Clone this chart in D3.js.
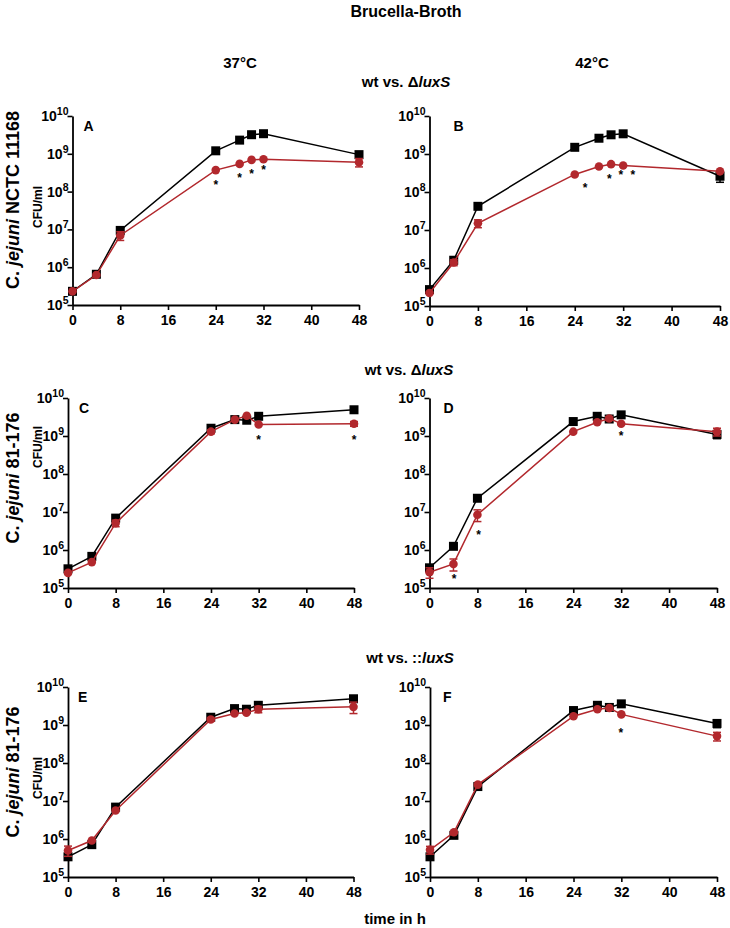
<!DOCTYPE html>
<html>
<head>
<meta charset="utf-8">
<script src="https://cdn.jsdelivr.net/npm/d3@7"></script>
<style>
  html, body { margin: 0; padding: 0; background: #fff; }
  svg { display: block; font-family: "Liberation Sans", Arial, sans-serif; font-weight: bold; }
</style>
</head>
<body>
<main></main>
<script>
(function () {

    // sampling times (h)
    var times = [0, 4, 8, 24, 28, 30, 32, 48],
        xTicks = [0, 8, 16, 24, 32, 40, 48],
        yTicks = [5, 6, 7, 8, 9, 10];

    // CFU/ml; wt = black squares, mutant = red circles
    var wtA  = [2.3e5, 6.5e5, 9.4e6, 1.2e9, 2.3e9, 3.2e9, 3.4e9, 9.5e8],
        mutA = [2.3e5, 6.2e5, 6.9e6, 3.7e8, 5.4e8, 6.9e8, 7.2e8, 6.0e8],
        wtErrA  = [0, 0, 0, 0, 0, 4e8, 6e8, 1.5e8],
        mutErrA = [0, 0, 1.8e6, 0, 0, 0, 0, 1.5e8],
        starsA = [[24, 1.8e8], [28, 2.75e8], [30, 3.5e8], [32, 4.6e8]];

    var wtB  = [2.7e5, 1.6e6, 4.2e7, 1.5e9, 2.6e9, 3.2e9, 3.4e9, 2.6e8],
        mutB = [2.2e5, 1.4e6, 1.5e7, 2.9e8, 4.7e8, 5.4e8, 5.0e8, 3.5e8],
        wtErrB  = [0, 0, 0, 0, 0, 0, 0, 8e7],
        mutErrB = [0, 2.5e5, 3.5e6, 0, 0, 0, 0, 0],
        starsB = [[25.7, 1.55e8], [29.7, 2.6e8], [31.6, 3.3e8], [33.6, 3.3e8]];

    var wtC  = [3.2e5, 6.8e5, 6.9e6, 1.6e9, 2.7e9, 2.6e9, 3.3e9, 4.9e9],
        mutC = [2.5e5, 4.8e5, 5.1e6, 1.3e9, 2.7e9, 3.4e9, 2.0e9, 2.1e9],
        wtErrC  = [0, 0, 0, 0, 0, 0, 0, 0],
        mutErrC = [0, 0, 1.0e6, 1.5e8, 0, 0, 0, 3e8],
        starsC = [[32, 9.8e8], [48, 9.8e8]];

    var wtD  = [3.4e5, 1.25e6, 2.3e7, 2.4e9, 3.3e9, 2.8e9, 3.6e9, 1.1e9],
        mutD = [2.6e5, 4.3e5, 8.5e6, 1.3e9, 2.3e9, 2.9e9, 2.1e9, 1.3e9],
        wtErrD  = [0, 0, 0, 0, 0, 0, 0, 2.5e8],
        mutErrD = [8e4, 1.5e5, 2.9e6, 0, 0, 3e8, 0, 3e8],
        starsD = [[4.1, 2.1e5], [8.2, 3.1e6], [32, 1.2e9]];

    var wtE  = [3.4e5, 7.1e5, 6.9e6, 1.6e9, 2.7e9, 2.6e9, 3.3e9, 4.9e9],
        mutE = [5.0e5, 9.1e5, 5.6e6, 1.4e9, 2.0e9, 2.1e9, 2.6e9, 3.0e9],
        wtErrE  = [0, 0, 0, 0, 0, 0, 0, 0],
        mutErrE = [1.5e5, 0, 0, 1.5e8, 0, 0, 5e8, 1.0e9],
        starsE = [];

    var wtF  = [3.4e5, 1.25e6, 2.4e7, 2.4e9, 3.3e9, 2.9e9, 3.6e9, 1.1e9],
        mutF = [5.2e5, 1.5e6, 2.7e7, 1.7e9, 2.6e9, 2.8e9, 1.9e9, 5.1e8],
        wtErrF  = [0, 0, 0, 0, 0, 0, 0, 2.5e8],
        mutErrF = [1.2e5, 0, 0, 0, 0, 0, 0, 1.3e8],
        starsF = [[31.9, 7.7e8]];

    var red = "#b2282d",
        W = 730, H = 928;

    var svg = d3.select("main")
            .append("svg")
            .attr("width", W)
            .attr("height", H);

    var panels = [
        {id: "A", wt: wtA, mut: mutA, wtErr: wtErrA, mutErr: mutErrA, stars: starsA,
         box: {x0: 72.5, x1: 359, y0: 116, y1: 305}, lx: 11},
        {id: "B", wt: wtB, mut: mutB, wtErr: wtErrB, mutErr: mutErrB, stars: starsB,
         box: {x0: 429.5, x1: 720, y0: 116, y1: 306}, lx: 24},
        {id: "C", wt: wtC, mut: mutC, wtErr: wtErrC, mutErr: mutErrC, stars: starsC,
         box: {x0: 68, x1: 354, y0: 398, y1: 588}, lx: 11},
        {id: "D", wt: wtD, mut: mutD, wtErr: wtErrD, mutErr: mutErrD, stars: starsD,
         box: {x0: 429.5, x1: 717, y0: 398, y1: 588}, lx: 14},
        {id: "E", wt: wtE, mut: mutE, wtErr: wtErrE, mutErr: mutErrE, stars: starsE,
         box: {x0: 68, x1: 353.5, y0: 687, y1: 877}, lx: 10},
        {id: "F", wt: wtF, mut: mutF, wtErr: wtErrF, mutErr: mutErrF, stars: starsF,
         box: {x0: 430, x1: 717, y0: 687, y1: 877}, lx: 13}
    ];

    var Panel = function (p) {
        var x = d3.scaleLinear().domain([0, 48]).range([p.box.x0, p.box.x1]),
            y = d3.scaleLog().domain([1e5, 1e10]).range([p.box.y1, p.box.y0]),
            g = svg.append("g");

        // axes
        var xa = g.append("g")
            .attr("transform", "translate(0," + p.box.y1 + ")")
            .call(d3.axisBottom(x).tickValues(xTicks).tickSize(5).tickSizeOuter(0));
        var ya = g.append("g")
            .attr("transform", "translate(" + p.box.x0 + ",0)")
            .call(d3.axisLeft(y).tickValues(yTicks.map(function (e) { return Math.pow(10, e); }))
                .tickSize(5).tickSizeOuter(0).tickFormat(""));
        [xa, ya].forEach(function (a) {
            a.select(".domain").attr("stroke", "#000").attr("stroke-width", 1.8);
            a.selectAll(".tick line").attr("stroke", "#000").attr("stroke-width", 1.6);
        });
        xa.selectAll(".tick text")
            .attr("y", 8)
            .attr("dy", "0.85em")
            .attr("font-size", 14)
            .attr("font-weight", "bold")
            .attr("font-family", "Liberation Sans, Arial, sans-serif")
            .attr("fill", "#000");

        yTicks.forEach(function (e) {
            var t = g.append("text")
                .attr("x", p.box.x0 - 4)
                .attr("y", y(Math.pow(10, e)) + 5)
                .attr("text-anchor", "end")
                .attr("font-size", 14);
            t.append("tspan").text("10");
            t.append("tspan").attr("dy", -6).attr("font-size", 10.5).text(e);
        });

        // panel letter
        g.append("text")
            .attr("x", p.box.x0 + p.lx)
            .attr("y", p.box.y0 + 15)
            .attr("font-size", 14)
            .text(p.id);

        var line = d3.line()
            .x(function (d) { return x(d[0]); })
            .y(function (d) { return y(d[1]); });

        var series = [
            {vals: p.wt, err: p.wtErr, color: "#000", shape: "square"},
            {vals: p.mut, err: p.mutErr, color: red, shape: "circle"}
        ];

        series.forEach(function (s) {
            var pts = times.map(function (t, i) { return [t, s.vals[i], s.err[i]]; });
            g.append("path")
                .datum(pts)
                .attr("d", line)
                .attr("fill", "none")
                .attr("stroke", s.color)
                .attr("stroke-width", 1.5);

            var eb = g.append("g").selectAll("g")
                .data(pts.filter(function (d) { return d[2] > 0; }))
                .enter().append("g")
                .attr("stroke", s.color)
                .attr("stroke-width", 1.5);
            eb.append("line")
                .attr("x1", function (d) { return x(d[0]); })
                .attr("x2", function (d) { return x(d[0]); })
                .attr("y1", function (d) { return y(d[1] + d[2]); })
                .attr("y2", function (d) { return y(Math.max(d[1] - d[2], 1e5)); });
            [1, -1].forEach(function (sgn) {
                eb.append("line")
                    .attr("x1", function (d) { return x(d[0]) - 4; })
                    .attr("x2", function (d) { return x(d[0]) + 4; })
                    .attr("y1", function (d) { return y(Math.max(d[1] + sgn * d[2], 1e5)); })
                    .attr("y2", function (d) { return y(Math.max(d[1] + sgn * d[2], 1e5)); });
            });

            if (s.shape === "square") {
                g.append("g").selectAll("rect")
                    .data(pts).enter().append("rect")
                    .attr("x", function (d) { return x(d[0]) - 4.5; })
                    .attr("y", function (d) { return y(d[1]) - 4.5; })
                    .attr("width", 9)
                    .attr("height", 9)
                    .attr("fill", s.color);
            } else {
                g.append("g").selectAll("circle")
                    .data(pts).enter().append("circle")
                    .attr("cx", function (d) { return x(d[0]); })
                    .attr("cy", function (d) { return y(d[1]); })
                    .attr("r", 4.3)
                    .attr("fill", s.color);
            }
        });

        // significance marks
        g.append("g").selectAll("text")
            .data(p.stars).enter().append("text")
            .attr("x", function (d) { return x(d[0]); })
            .attr("y", function (d) { return y(d[1]); })
            .attr("dy", "0.6em")
            .attr("text-anchor", "middle")
            .attr("font-size", 12)
            .text("*");
    };

    panels.forEach(Panel);

    // headers
    var Label = function (x, y, size, parts, rotate) {
        var t = svg.append("text")
            .attr("text-anchor", "middle")
            .attr("font-size", size)
            .attr("transform", "translate(" + x + "," + y + ")" + (rotate ? " rotate(-90)" : ""));
        parts.forEach(function (part) {
            t.append("tspan")
                .attr("font-style", part[1] ? "italic" : "normal")
                .text(part[0]);
        });
        return t;
    };

    Label(406, 17, 16, [["Brucella-Broth"]]);
    Label(240, 68, 15, [["37°C"]]);
    Label(592, 68, 15, [["42°C"]]);
    Label(406, 87, 15, [["wt vs. Δ"], ["luxS", true]]);
    Label(409, 375, 15, [["wt vs. Δ"], ["luxS", true]]);
    Label(410, 663, 15, [["wt vs. ::"], ["luxS", true]]);
    Label(395, 924, 15, [["time in h"]]);

    Label(19, 200, 18, [["C. "], ["jejuni", true], [" NCTC 11168"]], true);
    Label(19, 478, 18, [["C. "], ["jejuni", true], [" 81-176"]], true);
    Label(19, 772, 18, [["C. "], ["jejuni", true], [" 81-176"]], true);

    Label(42, 207, 12, [["CFU/ml"]], true);
    Label(42, 447, 12, [["CFU/ml"]], true);
    Label(42, 778, 12, [["CFU/ml"]], true);

})();
</script>
</body>
</html>
